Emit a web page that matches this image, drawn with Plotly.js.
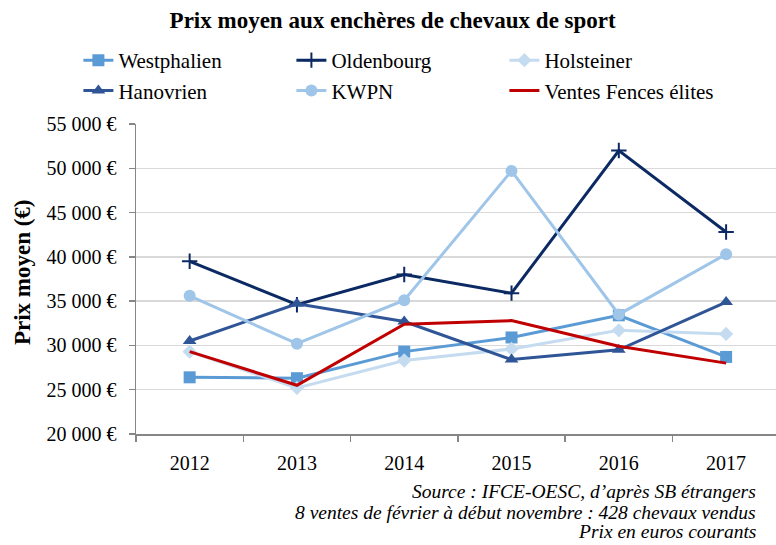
<!DOCTYPE html>
<html>
<head>
<meta charset="utf-8">
<script src="https://cdn.plot.ly/plotly-3.0.1.min.js"></script>
<style>html,body{margin:0;padding:0;background:#fff;}#chart{width:776px;height:545px;}</style>
</head>
<body>
<div id="chart"></div>
<script>
// ---- Data ----
var years = ['2012', '2013', '2014', '2015', '2016', '2017'];
var westphalien  = [26400, 26300, 29300, 30900, 33400, 28700];
var oldenbourg   = [39500, 34600, 38000, 35900, 52000, 42800];
var holsteiner   = [29300, 25200, 28300, 29600, 31700, 31300];
var hanovrien    = [30500, 34700, 32700, 28400, 29500, 34900];
var kwpn         = [35600, 30200, 35100, 49700, 33500, 40300];
var ventesFences = [29300, 25500, 32400, 32800, 29900, 28000];
var seriesNames = ['Westphalien', 'Oldenbourg', 'Holsteiner', 'Hanovrien', 'KWPN', 'Ventes Fences élites'];
var yTitle = 'Prix moyen (€)';
var footerLines = [
  'Source : IFCE-OESC, d’après SB étrangers',
  '8 ventes de février à début novembre : 428 chevaux vendus',
  'Prix en euros courants'
];

var serif = 'Liberation Serif, serif';

function tr(name, y, color, symbol, size, extra) {
  var t = {
    type: 'scatter', mode: 'lines+markers', name: name,
    x: years, y: y,
    line: {color: color, width: 3},
    marker: {color: color, symbol: symbol, size: size}
  };
  if (extra) { t.marker.line = extra; }
  return t;
}

var data = [
  tr(seriesNames[0], westphalien, '#5b9bd5', 'square', 12),
  tr(seriesNames[1], oldenbourg, '#0b2a63', 'cross-thin', 11, {color: '#0b2a63', width: 2}),
  tr(seriesNames[2], holsteiner, '#c5dcf0', 'diamond', 11),
  tr(seriesNames[3], hanovrien, '#2f5597', 'triangle-up', 12),
  tr(seriesNames[4], kwpn, '#9fc5e8', 'circle', 12),
  {type: 'scatter', mode: 'lines', name: seriesNames[5], x: years, y: ventesFences,
   line: {color: '#c00000', width: 3}}
];

var annotations = footerLines.map(function (txt, i) {
  return {
    text: '<i>' + txt + '</i>', xref: 'paper', yref: 'paper',
    x: 0.972, y: [-0.186, -0.254, -0.313][i],
    xanchor: 'right', yanchor: 'middle', showarrow: false, align: 'right',
    font: {family: serif, size: 19.5, color: '#000'}
  };
});
annotations.push({
  text: '<b>' + yTitle + '</b>', xref: 'paper', yref: 'paper',
  x: -0.178, y: 0.5225, xanchor: 'center', yanchor: 'middle', textangle: -90,
  showarrow: false, font: {family: serif, size: 23, color: '#000'}
});

var layout = {
  width: 776, height: 545,
  margin: {l: 136, r: 0, t: 124, b: 111},
  paper_bgcolor: '#fff', plot_bgcolor: '#fff',
  separators: ', ',
  showlegend: true,
  title: {
    text: '<b>Prix moyen aux enchères de chevaux de sport</b>',
    xref: 'container', yref: 'container', x: 0.506, y: 0.963,
    xanchor: 'center', yanchor: 'middle',
    font: {family: serif, size: 23, color: '#000'}
  },
  legend: {
    orientation: 'h', x: -0.09, y: 1.271, xanchor: 'left', yanchor: 'top',
    entrywidth: 168, entrywidthmode: 'pixels', itemwidth: 30,
    font: {family: serif, size: 21, color: '#000'},
    bgcolor: 'rgba(0,0,0,0)', traceorder: 'normal'
  },
  xaxis: {
    type: 'category', range: [-0.5, 5.465],
    showgrid: false, showline: true, linecolor: '#868686', linewidth: 1.5,
    ticks: 'outside', tickson: 'boundaries', ticklen: 6, tickcolor: '#868686', tickwidth: 1.5,
    ticklabelstandoff: 10,
    tickfont: {family: serif, size: 20, color: '#000'},
    zeroline: false, fixedrange: true
  },
  yaxis: {
    range: [20000, 55000], dtick: 5000, tick0: 0,
    tickformat: ',.0f', ticksuffix: ' €',
    showgrid: true, gridcolor: '#d9d9d9', gridwidth: 1.5,
    showline: true, linecolor: '#868686', linewidth: 1.5,
    ticks: 'outside', ticklen: 6, tickcolor: '#868686', tickwidth: 1.5,
    ticklabelstandoff: 8,
    tickfont: {family: serif, size: 20, color: '#000'},
    zeroline: false, fixedrange: true
  },
  annotations: annotations
};

Plotly.newPlot('chart', data, layout, {displayModeBar: false, staticPlot: true});
</script>
</body>
</html>
